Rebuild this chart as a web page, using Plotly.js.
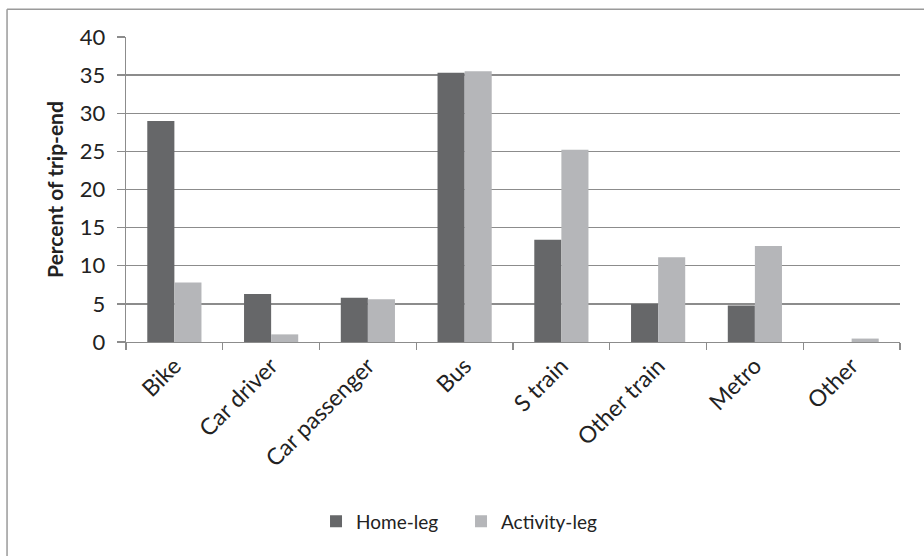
<!DOCTYPE html>
<html>
<head>
<meta charset="utf-8">
<script src="https://cdn.plot.ly/plotly-3.0.1.min.js"></script>
<style>html,body{margin:0;padding:0;background:#fff}#chart{width:924px;height:556px}</style>
</head>
<body>
<div id="chart"></div>
<script>
const categories = ["Bike", "Car driver", "Car passenger", "Bus", "S train", "Other train", "Metro", "Other"];
const homeLeg = [29.0, 6.3, 5.8, 35.3, 13.4, 5.0, 4.8, 0];
const activityLeg = [7.8, 1.0, 5.6, 35.5, 25.2, 11.1, 12.6, 0.45];
const yTicks = [0, 5, 10, 15, 20, 25, 30, 35, 40];

const FONT = "Lato, 'Open Sans', sans-serif";
const GRID = "#8c8c8c";

const traces = [
  {type: "bar", name: "Home-leg", x: categories, y: homeLeg, marker: {color: "#666769"}},
  {type: "bar", name: "Activity-leg", x: categories, y: activityLeg, marker: {color: "#b5b6b9"}}
];

const layout = {
  width: 924, height: 556,
  margin: {l: 126, r: 24, t: 37, b: 214},
  paper_bgcolor: "#fff", plot_bgcolor: "#fff",
  font: {family: FONT, color: "#222", size: 19},
  barmode: "group", bargap: 0.44, bargroupgap: 0,
  showlegend: true,
  legend: {orientation: "h", x: 0.2455, xanchor: "left", y: -0.588, yanchor: "middle",
           font: {size: 19}, itemwidth: 30, tracegroupgap: 0,
           entrywidth: 100, entrywidthmode: "pixels"},
  xaxis: {
    type: "category", tickangle: -45, tickson: "boundaries", ticks: "outside", ticklen: 7,
    tickcolor: GRID, tickwidth: 1.4, showline: true, linecolor: GRID, linewidth: 1.4,
    showgrid: false, tickfont: {size: 23}, automargin: false
  },
  yaxis: {
    range: [0, 40], tickvals: yTicks, ticktext: yTicks.map(String),
    ticks: "outside", ticklen: 8, tickcolor: GRID, tickwidth: 1.4,
    showline: true, linecolor: GRID, linewidth: 1.4,
    showgrid: true, gridcolor: GRID, gridwidth: 1.4, zeroline: false,
    ticklabelstandoff: 7, tickfont: {size: 22}, automargin: false,
    title: {text: "<b>Percent of trip-end</b>", font: {size: 21}, standoff: 10}
  },
  shapes: [
    {type: "line", xref: "paper", yref: "paper", x0: -0.1537, x1: 1.2, y0: 1.0907, y1: 1.0907,
     line: {color: "#9a9a9a", width: 1.5}},
    {type: "line", xref: "paper", yref: "paper", x0: -0.1537, x1: -0.1537, y0: 1.0907, y1: -1.0,
     line: {color: "#9a9a9a", width: 1.5}}
  ]
};

Plotly.newPlot("chart", traces, layout, {displayModeBar: false, staticPlot: true});
</script>
</body>
</html>
